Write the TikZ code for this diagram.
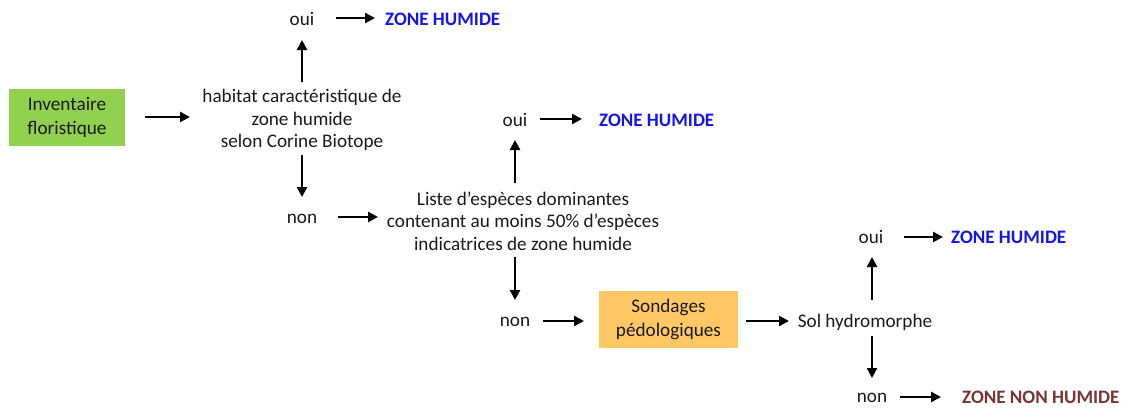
\documentclass[tikz,border=0pt]{standalone}
\usepackage{fontspec}
\setmainfont{Carlito}
\usetikzlibrary{arrows.meta}
\definecolor{boxgreen}{HTML}{92D050}
\definecolor{boxorange}{HTML}{FFC864}
\definecolor{zhblue}{HTML}{1414F0}
\definecolor{znhred}{HTML}{7A3434}
\definecolor{txt}{HTML}{1A1A1A}
\tikzset{
  lbl/.style={font=\fontsize{19.2}{22.5}\selectfont, text=txt, align=center, inner sep=0pt},
  zh/.style={font=\fontsize{19}{20}\selectfont\bfseries, text=zhblue, inner sep=0pt, anchor=west},
  znh/.style={font=\fontsize{19}{20}\selectfont\bfseries, text=znhred, inner sep=0pt, anchor=west},
  boxnode/.style={font=\fontsize{19.2}{24}\selectfont, text=txt, align=center, minimum height=57pt, inner sep=0pt},
  arr/.style={-{Triangle[length=10pt,width=10pt]}, line width=2.6pt, black}
}
\begin{document}
\begin{tikzpicture}[x=1pt,y=-1pt]
\useasboundingbox (0,0) rectangle (1121,407);
% boxes
\node[boxnode, fill=boxgreen, minimum width=116pt] (inv) at (67,117) {Inventaire\\floristique};
\node[boxnode, fill=boxorange, minimum width=139pt] (sond) at (668.5,319) {Sondages\\pédologiques};
% question 1
\node[lbl] (q1) at (302,120) {habitat caractéristique de\\zone humide\\selon Corine Biotope};
\node[lbl] (oui1) at (302,19) {oui};
\node[lbl] (non1) at (302,219) {non};
\node[zh] (zh1) at (385,19) {ZONE HUMIDE};
% question 2
\node[lbl] (q2) at (523,221) {Liste d’espèces dominantes\\contenant au moins 50\% d’espèces\\indicatrices de zone humide};
\node[lbl] (oui2) at (515,120) {oui};
\node[lbl] (non2) at (515,322) {non};
\node[zh] (zh2) at (599,120) {ZONE HUMIDE};
% question 3
\node[lbl] (q3) at (865,322) {Sol hydromorphe};
\node[lbl] (oui3) at (871,237) {oui};
\node[lbl] (non3) at (872,398) {non};
\node[zh] (zh3) at (951,237) {ZONE HUMIDE};
\node[znh] (znh) at (962,397) {ZONE NON HUMIDE};
% connectors
\draw[arr] (145,117) -- (190,117);
\draw[arr] (302,82) -- (302,40);
\draw[arr] (302,155) -- (302,197);
\draw[arr] (336,18) -- (375,18);
\draw[arr] (338,217) -- (378,217);
\draw[arr] (515,183) -- (515,140);
\draw[arr] (515,257) -- (515,300);
\draw[arr] (540,119) -- (582,119);
\draw[arr] (543,321) -- (584,321);
\draw[arr] (746,321) -- (789,321);
\draw[arr] (872,300) -- (872,257);
\draw[arr] (872,336) -- (872,378);
\draw[arr] (904,237) -- (943,237);
\draw[arr] (900,397) -- (941,397);
\end{tikzpicture}
\end{document}
